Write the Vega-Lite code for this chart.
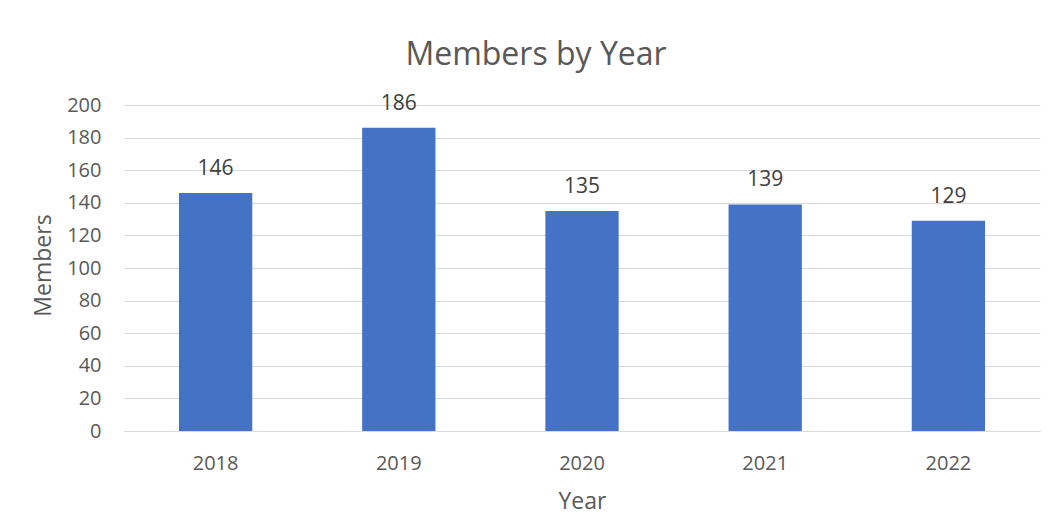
{
  "$schema": "https://vega.github.io/schema/vega-lite/v6.json",
  "autosize": {"type": "none"},
  "width": 916,
  "height": 326,
  "padding": {"left": 124, "top": 105, "right": 16, "bottom": 89},
  "background": "white",
  "config": {
    "font": "Open Sans",
    "view": {"stroke": null},
    "axis": {"labelColor": "#595959", "titleColor": "#595959", "labelFont": "Open Sans", "titleFont": "Open Sans"}
  },
  "title": {
    "text": "Members by Year",
    "fontSize": 32,
    "fontWeight": "normal",
    "color": "#595959",
    "font": "Open Sans",
    "anchor": "middle",
    "frame": "bounds",
    "baseline": "alphabetic",
    "offset": -4
  },
  "data": {
    "values": [
      {"Year": "2018", "Members": 146},
      {"Year": "2019", "Members": 186},
      {"Year": "2020", "Members": 135},
      {"Year": "2021", "Members": 139},
      {"Year": "2022", "Members": 129}
    ]
  },
  "encoding": {
    "x": {
      "field": "Year",
      "type": "nominal",
      "scale": {"paddingInner": 0.6, "paddingOuter": 0.3},
      "axis": {
        "title": "Year",
        "labelAngle": 0,
        "labelFontSize": 20,
        "labelBaseline": "alphabetic",
        "labelPadding": 38,
        "ticks": false,
        "tickSize": 0,
        "domain": true,
        "domainColor": "#d9d9d9",
        "domainWidth": 1,
        "titleFontSize": 23,
        "titleFontWeight": "normal",
        "titleBaseline": "alphabetic",
        "titleY": 77
      }
    },
    "y": {
      "field": "Members",
      "type": "quantitative",
      "scale": {"domain": [0, 200], "nice": false},
      "axis": {
        "title": "Members",
        "values": [0, 20, 40, 60, 80, 100, 120, 140, 160, 180, 200],
        "labelFontSize": 20,
        "labelPadding": 23,
        "ticks": false,
        "tickSize": 0,
        "domain": false,
        "grid": true,
        "gridColor": "#d9d9d9",
        "gridWidth": 1,
        "titleFontSize": 23,
        "titleFontWeight": "normal",
        "titleAngle": -90,
        "titleAlign": "center",
        "titleBaseline": "alphabetic",
        "titleX": -74,
        "titleY": 160
      }
    }
  },
  "layer": [
    {"mark": {"type": "bar", "color": "#4472C4"}},
    {
      "mark": {"type": "text", "baseline": "alphabetic", "dy": -18, "fontSize": 21, "color": "#404040", "font": "Open Sans"},
      "encoding": {"text": {"field": "Members", "type": "quantitative"}}
    }
  ]
}
